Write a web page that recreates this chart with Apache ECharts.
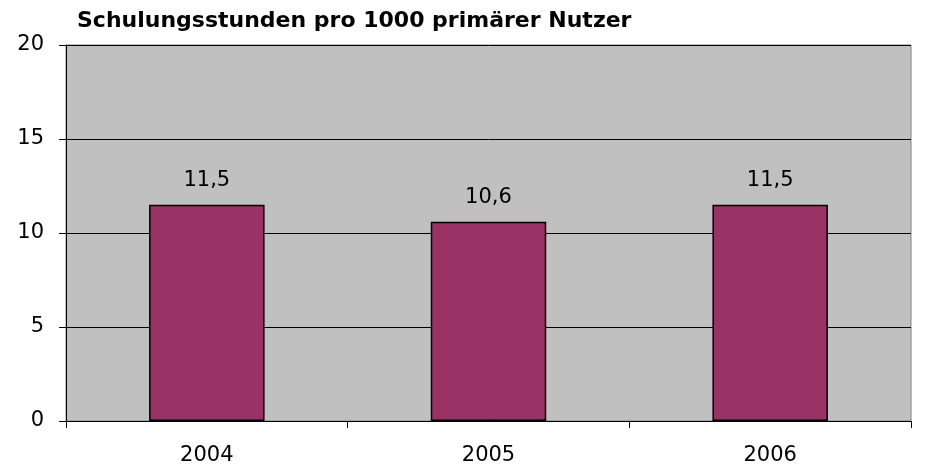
<!DOCTYPE html>
<html>
<head>
<meta charset="utf-8">
<script src="https://cdn.jsdelivr.net/npm/echarts@6/dist/echarts.min.js"></script>
<style>
  html, body { margin: 0; padding: 0; background: #fff; }
  #chart { width: 928px; height: 470px; }
</style>
</head>
<body>
<div id="chart"></div>
<script>
const years = ['2004', '2005', '2006']
const hours = [11.5, 10.6, 11.5]

const chart = echarts.init(document.getElementById('chart'))

const font = '"DejaVu Sans", sans-serif'

chart.setOption({
  animation: false,
  title: {
    text: 'Schulungsstunden pro 1000 primärer Nutzer',
    left: 72,
    top: 5,
    textStyle: { fontFamily: font, fontSize: 22, fontWeight: 'bold', color: '#000' }
  },
  grid: {
    left: 66,
    right: 17,
    top: 45,
    bottom: 49,
    show: true,
    backgroundColor: '#c0c0c0',
    borderColor: '#808080',
    borderWidth: 1
  },
  xAxis: {
    type: 'category',
    data: years,
    axisLine: { lineStyle: { color: '#000', width: 1 } },
    axisTick: { show: true, alignWithLabel: false, length: 7, lineStyle: { color: '#000' } },
    axisLabel: { fontFamily: font, fontSize: 21, color: '#000', margin: 24 }
  },
  yAxis: {
    type: 'value',
    min: 0,
    max: 20,
    interval: 5,
    axisLine: { show: true, lineStyle: { color: '#000', width: 1 } },
    axisTick: { show: true, length: 7, lineStyle: { color: '#000' } },
    axisLabel: { fontFamily: font, fontSize: 21, color: '#000', margin: 22 },
    splitLine: { lineStyle: { color: '#000', width: 1 } }
  },
  series: [{
    type: 'bar',
    data: hours,
    barWidth: '41%',
    itemStyle: { color: '#993366', borderColor: '#000', borderWidth: 1.5 },
    label: {
      show: true,
      position: 'top',
      distance: 14,
      fontFamily: font,
      fontSize: 21,
      color: '#000',
      formatter: p => String(p.value).replace('.', ',')
    }
  }]
})
</script>
</body>
</html>
